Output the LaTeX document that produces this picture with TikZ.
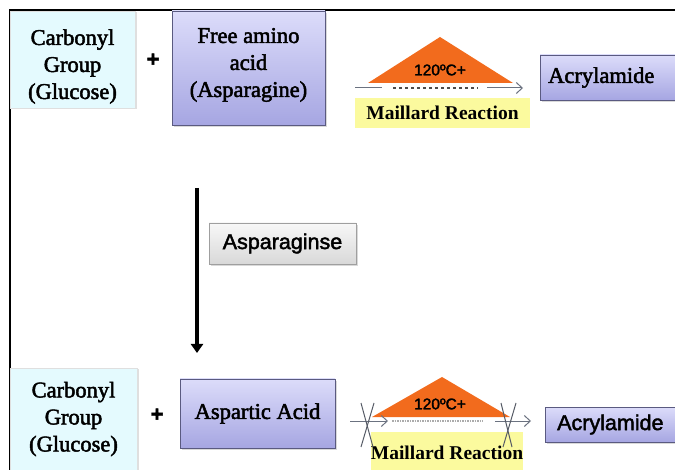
\documentclass[tikz,border=0pt]{standalone}
\usepackage{fontspec}
\setmainfont{Liberation Serif}
\newfontfamily\heavyserif[FakeBold=2.2]{Liberation Serif}
\newfontfamily\arialfont[FakeBold=2]{Liberation Sans}
\usetikzlibrary{arrows.meta,shadows}
\definecolor{sugarcyan}{HTML}{E4FAFE}
\definecolor{lavtop}{HTML}{DCDCFA}
\definecolor{lavbot}{HTML}{A6A6E2}
\definecolor{lavedge}{HTML}{5A5A80}
\definecolor{heatorange}{HTML}{F26B1D}
\definecolor{mailyellow}{HTML}{FBFA9E}
\definecolor{rxngray}{HTML}{6B7280}

\begin{document}
\begin{tikzpicture}[
  x=1pt,y=-1pt,
  txt/.style={font=\heavyserif\fontsize{22.5}{27}\selectfont,align=center},
  sug/.style={txt,fill=sugarcyan,draw=gray!25,inner sep=0pt,
    drop shadow={shadow xshift=1.5pt,shadow yshift=-1.5pt,opacity=0.25}},
  amino/.style={txt,draw=lavedge,top color=lavtop,bottom color=lavbot,inner sep=0pt,
    drop shadow={shadow xshift=2pt,shadow yshift=-2pt,opacity=0.3}},
  enz/.style={font=\arialfont\fontsize{21.5}{25}\selectfont,draw=gray!75,
    top color=gray!6,bottom color=gray!30,inner sep=0pt,
    drop shadow={shadow xshift=2pt,shadow yshift=-2pt,opacity=0.3}},
  mail/.style={font=\fontsize{19.5}{24}\selectfont\bfseries,fill=mailyellow,inner sep=0pt},
  heat/.style={font=\arialfont\fontsize{15.5}{18}\selectfont},
  plus/.style={font=\arialfont\fontsize{22}{24}\selectfont\bfseries},
  rxn/.style={draw=rxngray,line width=1pt},
  rxnarr/.style={rxn,-{Straight Barb[length=6pt,width=11pt,line width=1pt]}},
  dots/.style={draw=gray!60!black,line width=1.6pt,dash pattern=on 3pt off 3pt},
  fine/.style={draw=gray!65,line width=1.2pt,dash pattern=on 1.5pt off 1pt},
  cross/.style={draw=rxngray!80!black,line width=1pt},
]
\clip (0,0) rectangle (675,470);
% frame
\draw[line width=2.2pt] (10,472) -- (10,10) -- (677,10);
% top row
\node[sug,minimum width=125pt,minimum height=97pt] (sugTop) at (72.5,59.5)
  {\begin{tabular}{@{}c@{}}\rule{0pt}{33pt}Carbonyl\\Group\\(Glucose)\end{tabular}};
\node[plus] (plusTop) at (153,60) {+};
\node[amino,minimum width=153pt,minimum height=114pt] (aminoTop) at (248.5,68) {Free amino\\acid\\(Asparagine)\\[-16pt]};
\fill[heatorange] (368,83) -- (440,37) -- (513,83) -- cycle;
\node[heat] (heatTop) at (440,70) {120ºC+};
\node[mail,minimum width=175pt,minimum height=30pt] (mailTop) at (442.5,113) {\raisebox{-5pt}{Maillard Reaction}};
\node[amino,anchor=west,text width=150pt,align=left,inner xsep=8pt,minimum height=45pt] (prodTop) at (540,77.5) {Acrylamide};
\coordinate (r1a) at (355,88); \coordinate (r1b) at (382,88);
\coordinate (r1c) at (393,88); \coordinate (r1d) at (478,88);
\coordinate (r1e) at (487,88); \coordinate (r1f) at (523,88);
\draw[rxn] (r1a) -- (r1b);
\draw[dots] (r1c) -- (r1d);
\draw[rxnarr] (r1e) -- (r1f);
% enzyme step
\coordinate (downA) at (197,188); \coordinate (downB) at (197,353);
\draw[line width=4pt,-{Triangle[length=9pt,width=12pt]}] (downA) -- (downB);
\node[enz,minimum width=147pt,minimum height=41pt] (enz) at (282.5,243.5) {Asparaginse};
% bottom row
\node[sug,minimum width=127pt,minimum height=102pt] (sugBot) at (73.5,419) {Carbonyl\\Group\\(Glucose)};
\node[plus] (plusBot) at (157,415) {+};
\node[amino,minimum width=155pt,minimum height=69pt] (aminoBot) at (257.5,413.5) {Aspartic Acid};
\fill[heatorange] (372,417) -- (442,377) -- (510,417) -- cycle;
\node[heat] (heatBot) at (440,404) {120ºC+};
\node[mail,minimum width=150pt,minimum height=42pt] (mailBot) at (447,453) {Maillard Reaction};
\node[amino,font=\arialfont\fontsize{21.5}{25}\selectfont,anchor=west,text width=150pt,align=left,inner xsep=12pt,minimum height=35pt] (prodBot) at (545,424.5) {Acrylamide};
\coordinate (r2a) at (350,421); \coordinate (r2b) at (388,421);
\coordinate (r2c) at (392,421); \coordinate (r2d) at (483,421);
\coordinate (r2e) at (495,421); \coordinate (r2f) at (531,421);
\draw[rxnarr] (r2a) -- (r2b);
\draw[fine] (r2c) -- (r2d);
\draw[rxnarr] (r2e) -- (r2f);
% blocked
\draw[cross] (361,403) -- (373,447); \draw[cross] (374,403) -- (361,447);
\draw[cross] (501,403) -- (512,447); \draw[cross] (516,403) -- (503,447);
\end{tikzpicture}
\end{document}
